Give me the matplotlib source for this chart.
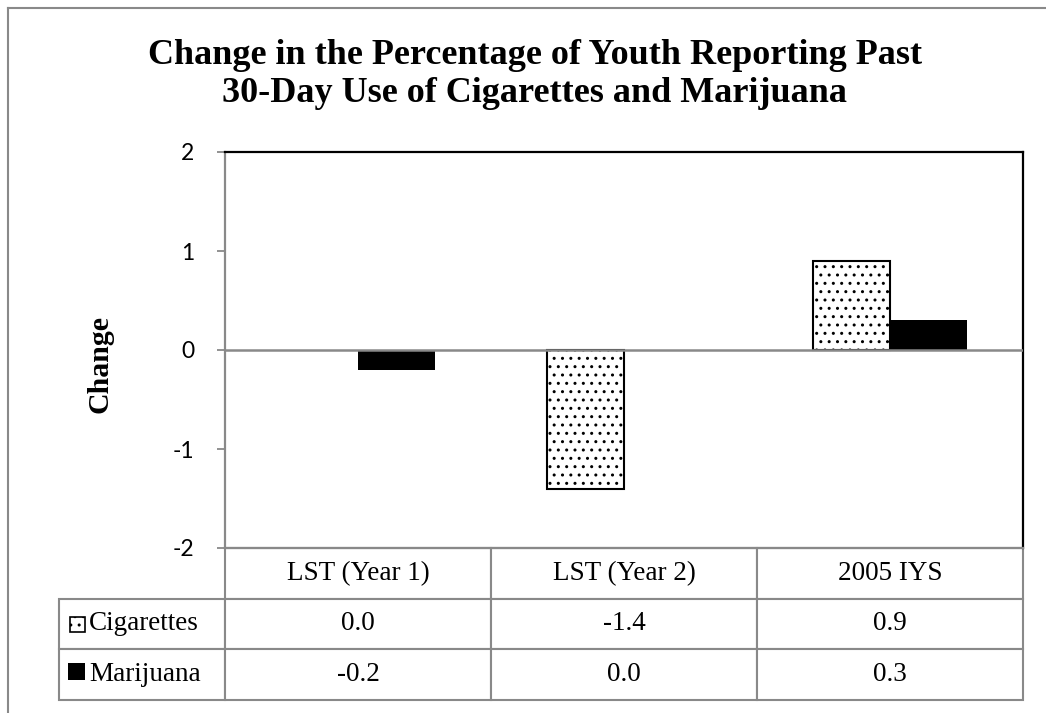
import matplotlib
matplotlib.use("Agg")
import matplotlib.pyplot as plt
from matplotlib.patches import Rectangle
from matplotlib.lines import Line2D
from matplotlib.table import Table
import numpy as np

# values shown in the data table
categories = ["LST (Year 1)", "LST (Year 2)", "2005 IYS"]
series_names = ["Cigarettes", "Marijuana"]
cigarettes = [0.0, -1.4, 0.9]
marijuana = [-0.2, 0.0, 0.3]
yticks = [-2, -1, 0, 1, 2]

W, H = 1046, 713
GRAY = "#898989"
SERIF = "Liberation Serif"

fig = plt.figure(figsize=(W / 100, H / 100), dpi=100)

# plot area in pixels: x 225..1023, y 152..548
L, R, T, B = 225, 1023, 152, 548
ax = fig.add_axes([L / W, 1 - B / H, (R - L) / W, (B - T) / H])


def ax_xy(px, py):
    """pixel position -> axes fraction"""
    return (px - L) / (R - L), (B - py) / (B - T)


x = np.arange(len(categories))
w = 0.29
cig_lw = [1.5 if v != 0 else 0 for v in cigarettes]
ax.bar(x - w / 2, cigarettes, w, facecolor="white", edgecolor="black",
       hatch="..", linewidth=cig_lw, zorder=2)
ax.bar(x + w / 2, marijuana, w, color="black", linewidth=0, zorder=2)
ax.axhline(0, color=GRAY, lw=1.8, zorder=3)

ax.set_xlim(-0.5, len(categories) - 0.5)
ax.set_ylim(-2, 2)
ax.set_yticks(yticks)
ax.set_yticklabels([str(t) for t in yticks], fontfamily="Lato", fontsize=16.5)
ax.set_xticks([])
ax.tick_params(axis="y", direction="out", length=6, width=1.3, color=GRAY, pad=16)
ax.spines["left"].set_color(GRAY)
ax.spines["left"].set_linewidth(1.6)
ax.spines["bottom"].set_color(GRAY)
ax.spines["bottom"].set_linewidth(1.6)
for s in ("top", "right"):
    ax.spines[s].set_color("black")
    ax.spines[s].set_linewidth(1.6)

# data table under the plot
TL, TB = 59, 700
x0, y0 = ax_xy(TL, TB)
tbl = Table(ax, bbox=[x0, y0, 1 - x0, -y0])
col_w = [166, 266, 266, 266]
row_h = 152 / 3
rows = [[""] + categories,
        [series_names[0]] + [f"{v:.1f}" for v in cigarettes],
        [series_names[1]] + [f"{v:.1f}" for v in marijuana]]
for r, row in enumerate(rows):
    for c, txt in enumerate(row):
        cell = tbl.add_cell(r, c, width=col_w[c], height=row_h, text=txt,
                            loc="left" if c == 0 else "center",
                            edgecolor=GRAY, facecolor="white")
        cell.set_linewidth(1.5)
        cell.get_text().set_fontfamily(SERIF)
        cell.get_text().set_fontsize(19.5)
        if c == 0:
            cell.PAD = 0.18
        if r == 0 and c == 0:
            cell.visible_edges = ""
tbl.auto_set_font_size(False)
ax.add_table(tbl)

# legend keys inside the table's label column
kx, ky = ax_xy(70, 632)
ax.add_patch(Rectangle((kx, ky), 15 / (R - L), 15 / (B - T), transform=ax.transAxes,
                       facecolor="white", edgecolor="black", hatch="..",
                       linewidth=1.2, clip_on=False))
kx, ky = ax_xy(68, 680)
ax.add_patch(Rectangle((kx, ky), 17 / (R - L), 17 / (B - T), transform=ax.transAxes,
                       facecolor="black", edgecolor="black", linewidth=0,
                       clip_on=False))

fig.text(535 / W, 1 - 39 / H,
         "Change in the Percentage of Youth Reporting Past\n30-Day Use of Cigarettes and Marijuana",
         ha="center", va="top", fontfamily=SERIF, fontweight="bold", fontsize=26,
         linespacing=1.2)
fig.text(100 / W, 1 - 364 / H, "Change", rotation=90, ha="center", va="center",
         fontfamily=SERIF, fontweight="bold", fontsize=21.5)

# chart frame
fig.add_artist(Line2D([8 / W, 8 / W], [0, 1 - 8 / H], color=GRAY, lw=1.5))
fig.add_artist(Line2D([8 / W, 1], [1 - 8 / H, 1 - 8 / H], color=GRAY, lw=1.5))

fig.savefig("out.png", dpi=100)
